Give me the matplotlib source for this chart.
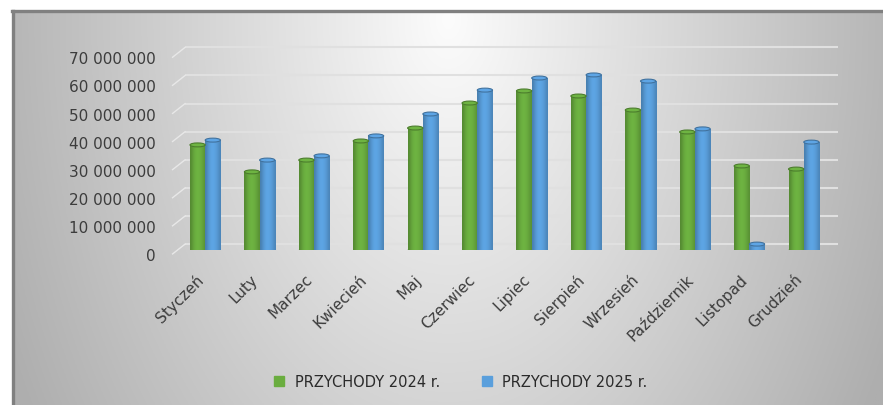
import numpy as np
import matplotlib
matplotlib.use("Agg")
import matplotlib.pyplot as plt
import matplotlib.transforms as mtransforms
from matplotlib.patches import Rectangle, Ellipse
from matplotlib.lines import Line2D
from matplotlib.colors import to_rgb

months = ["Styczeń", "Luty", "Marzec", "Kwiecień", "Maj", "Czerwiec",
          "Lipiec", "Sierpień", "Wrzesień", "Październik", "Listopad", "Grudzień"]
rev_2024 = [37.4, 27.8, 32.0, 38.8, 43.4, 52.3, 56.6, 54.8, 49.8, 42.0, 29.9, 28.8]
rev_2025 = [39.1, 32.0, 33.5, 40.6, 48.4, 56.9, 61.2, 62.3, 60.1, 43.1, 2.1, 38.4]
series_names = ["PRZYCHODY 2024 r.", "PRZYCHODY 2025 r."]
yticks = [0, 10, 20, 30, 40, 50, 60, 70]   # millions

green = "#6aad3f"
blue = "#5a9fdc"
txt = "#3c3c3c"

W, H = 883, 406
fig = plt.figure(figsize=(W / 100, H / 100), dpi=100)

# chart area background (light centre, grey edges) + frame
bg = fig.add_axes([14 / W, 0, 1 - 14 / W, (H - 12) / H], zorder=-10)
gx, gy = np.meshgrid(np.linspace(0, 1, 400), np.linspace(0, 1, 200))
d = np.sqrt(((gx - 0.5) / 0.55) ** 2 + ((gy - 0.02) / 1.9) ** 2)
shade = np.clip(252 - 76 * d, 174, 252) / 255
bg.imshow(np.dstack([shade] * 3), aspect="auto", extent=[0, 1, 1, 0])
bg.set_xlim(0, 1)
bg.set_ylim(1, 0)
bg.axis("off")
fig.add_artist(Line2D([12.5 / W, 12.5 / W], [0, (H - 11.5) / H], color="#808080", lw=2.4))
fig.add_artist(Line2D([11.5 / W, 1], [(H - 11.5) / H, (H - 11.5) / H], color="#808080", lw=2.4))

# plot axes: xlim -0.5..11.5 -> px 178..831, y 0 -> px 251, 2.81 px per million
ax = fig.add_axes([178 / W, (H - 251) / H, 653 / W, 211 / H])
ax.set_xlim(-0.5, 11.5)
ax.set_ylim(0, 211 / 2.81)
ax.patch.set_alpha(0)
for s in ax.spines.values():
    s.set_visible(False)

# back-wall gridlines with a short side-wall slant
for v in yticks:
    ax.plot([-0.37, 11.63], [v + 2.1, v + 2.1], color="#e0e0e0", lw=1.5,
            clip_on=False, zorder=1, solid_capstyle="butt")
    ax.plot([-0.6, -0.37], [v - 1.4, v + 2.1], color="#e8e8e8", lw=1.0,
            clip_on=False, zorder=1)

bw = 0.28
eh = 1.4
prof = np.array([0.80, 0.90, 0.98, 1.03, 1.04, 1.02, 0.98, 0.92, 0.84])


def cylinder(x, h, color):
    base = np.array(to_rgb(color))
    img = np.clip(prof[None, :, None] * base[None, None, :], 0, 1)
    ax.add_patch(Ellipse((x, 0), bw, eh, facecolor=base * 0.88, edgecolor="none", zorder=2))
    rect = Rectangle((x - bw / 2, 0), bw, h, transform=ax.transData)
    im = ax.imshow(img, extent=[x - bw / 2, x + bw / 2, 0, h], aspect="auto",
                   interpolation="bicubic", zorder=3)
    im.set_clip_path(rect)
    ax.add_patch(Ellipse((x, h), bw, eh, facecolor=np.clip(base * 1.04, 0, 1),
                         edgecolor=base * 0.72, lw=0.8, zorder=4))


for i in range(len(months)):
    cylinder(i - bw / 2, rev_2024[i], green)
    cylinder(i + bw / 2, rev_2025[i], blue)

ax.set_xlim(-0.5, 11.5)
ax.set_ylim(0, 211 / 2.81)

ax.set_yticks(yticks)
ax.set_yticklabels([f"{v * 1000000:,}".replace(",", " ") for v in yticks])
ax.tick_params(axis="y", length=0, pad=16, labelsize=11, labelcolor=txt)
off = mtransforms.ScaledTranslation(0, -4 / 100, fig.dpi_scale_trans)
for lab in ax.get_yticklabels():
    lab.set_transform(lab.get_transform() + off)

ax.set_xticks(range(len(months)))
ax.set_xticklabels(months, rotation=45, ha="right", va="center",
                   rotation_mode="anchor")
ax.tick_params(axis="x", length=0, pad=19, labelsize=11, labelcolor=txt)
xoff = mtransforms.ScaledTranslation(-4 / 100, 0, fig.dpi_scale_trans)
for lab in ax.get_xticklabels():
    lab.set_transform(lab.get_transform() + xoff)

handles = [Line2D([], [], marker="s", linestyle="none", markersize=6.5,
                  color=c) for c in (green, blue)]
fig.legend(handles, series_names, loc="center", bbox_to_anchor=(456 / W, 23 / H),
           ncol=2, frameon=False, fontsize=10.5, handletextpad=0.05,
           columnspacing=2.2, labelcolor="#2a2a2a")

fig.savefig("out.png", dpi=100)
